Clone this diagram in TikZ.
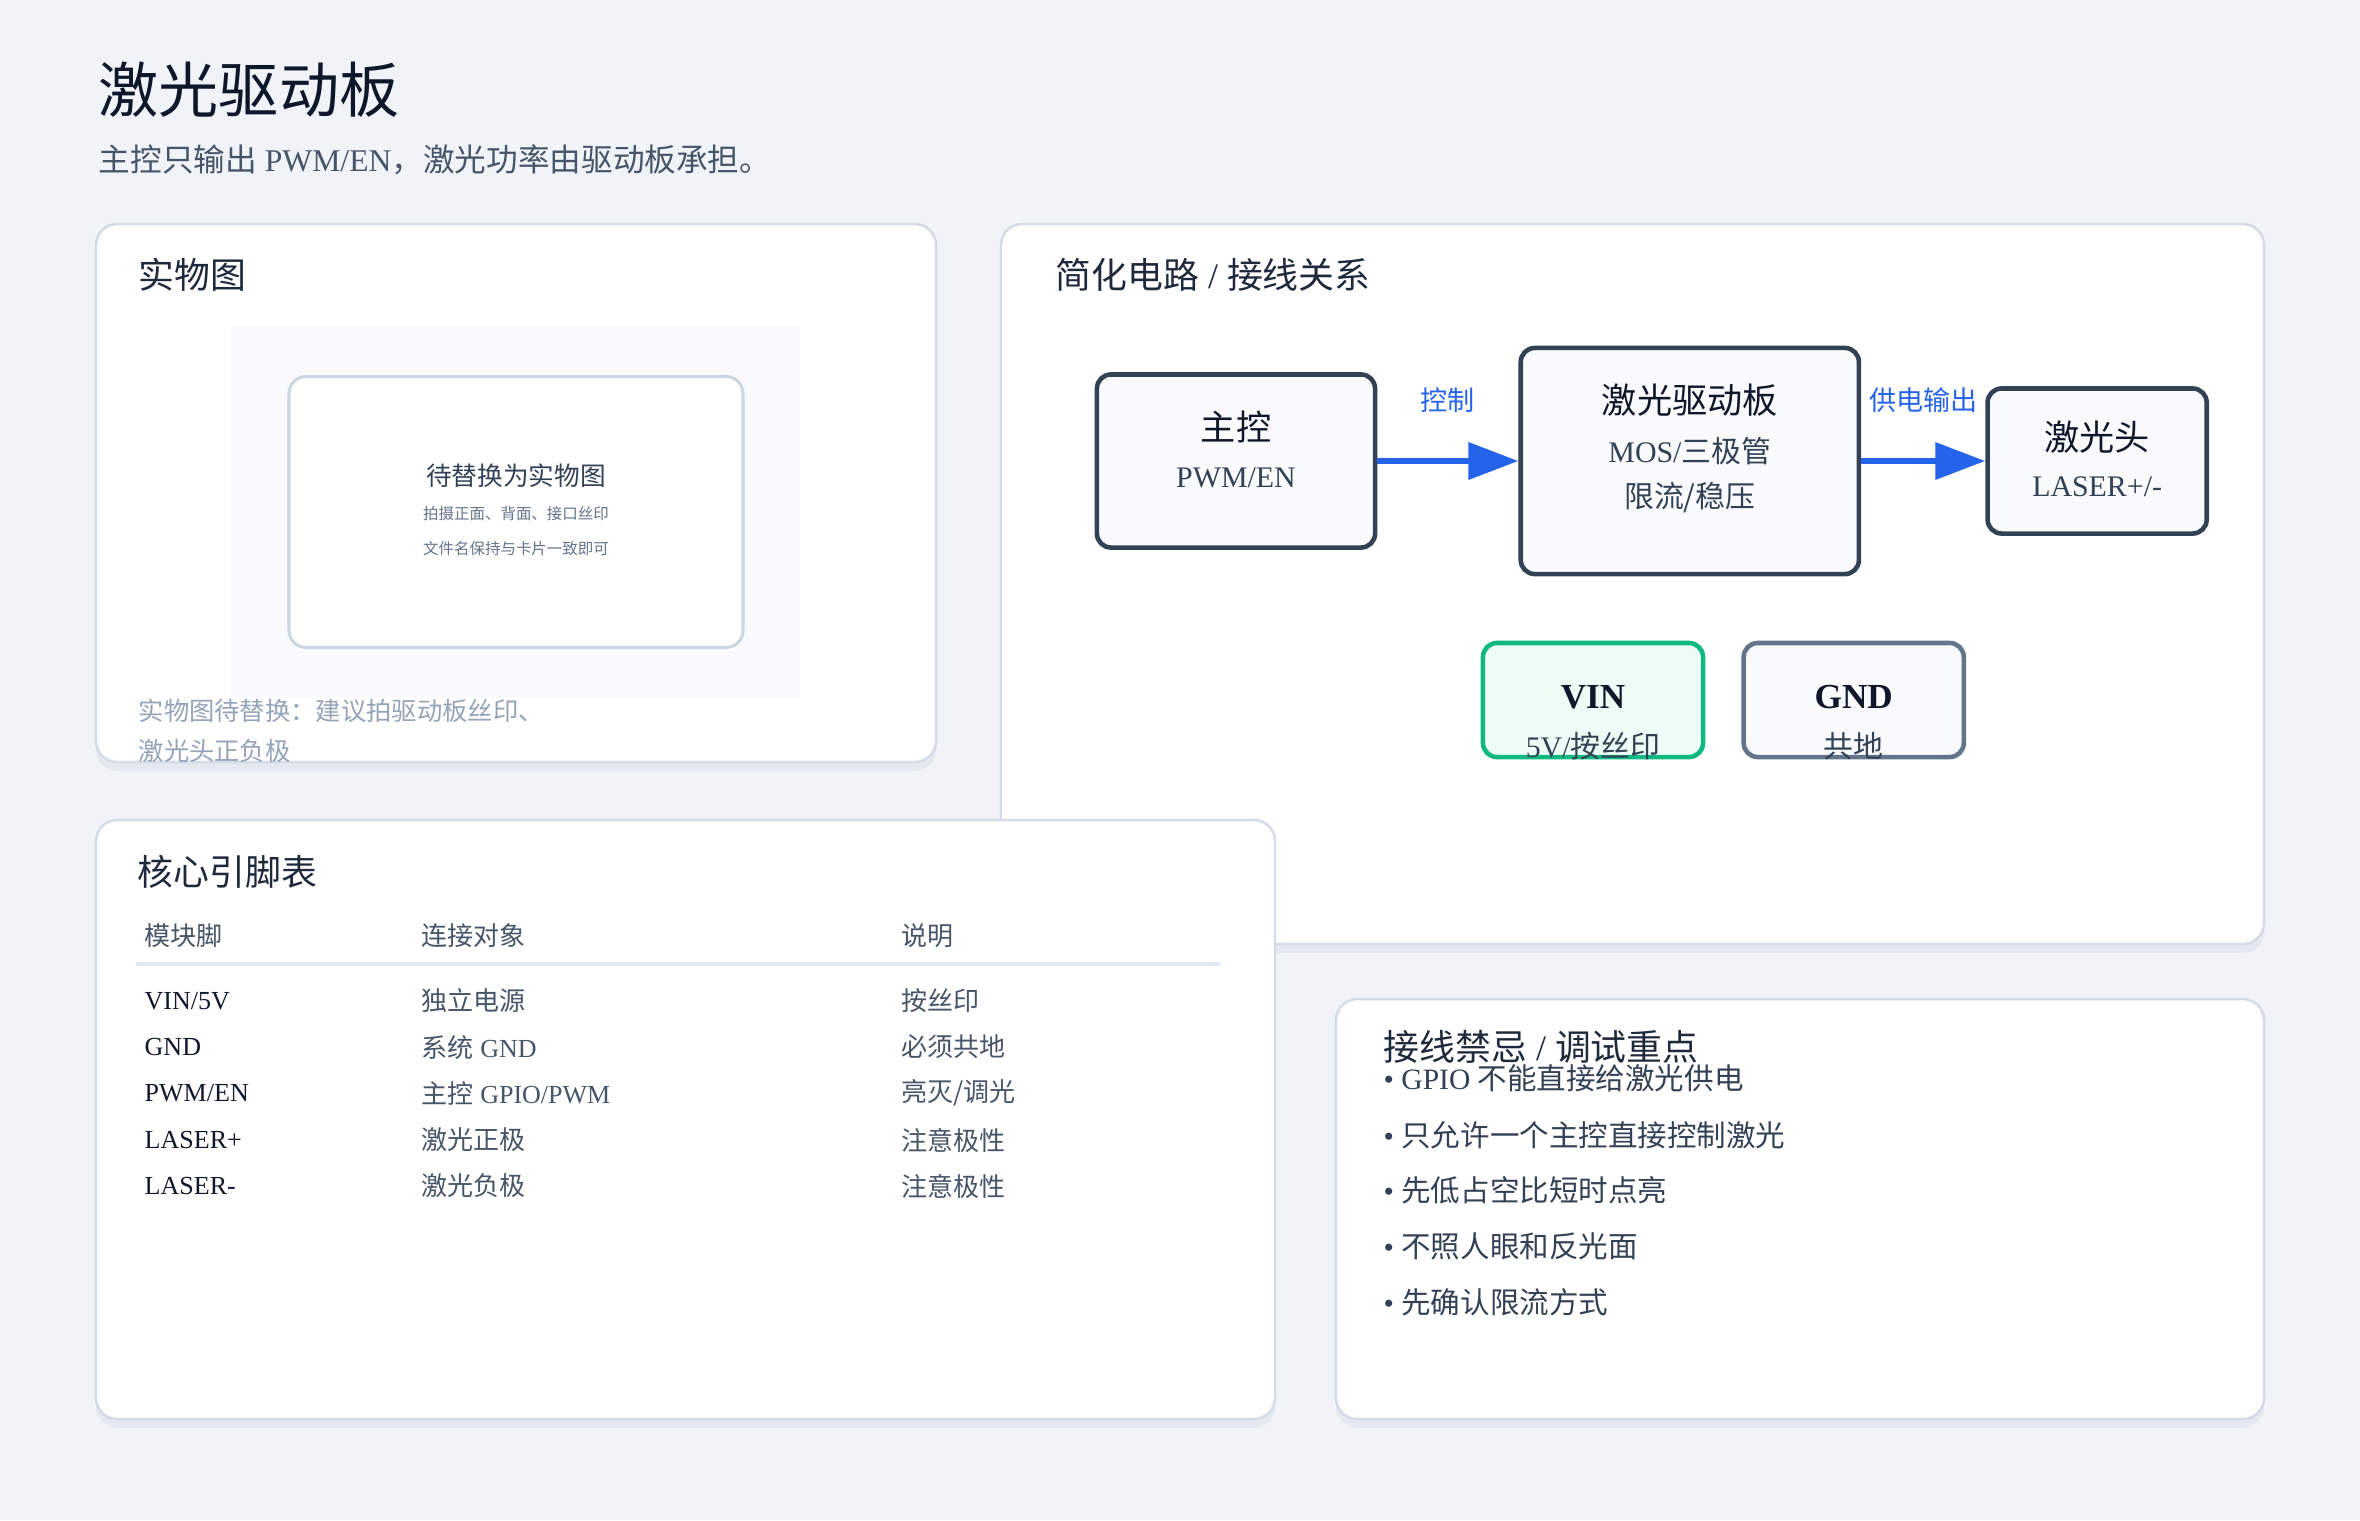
\documentclass[tikz,border=0pt]{standalone}
\usepackage{fontspec}
\setmainfont{Liberation Serif}
\newfontfamily\cjk{Noto Sans CJK SC}
\newcommand\zh[1]{{\cjk #1}}
\usepackage{xcolor}
\usepackage{tikz}
\usetikzlibrary{arrows.meta,positioning,shadows}
\definecolor{pagebg}{HTML}{F0F3F8}
\definecolor{cardline}{HTML}{D3DCE7}
\definecolor{shadowc}{HTML}{DCE2EB}
\definecolor{inkdark}{HTML}{0F172A}
\definecolor{inkhead}{HTML}{1E293B}
\definecolor{inkmid}{HTML}{334155}
\definecolor{inkgray}{HTML}{475569}
\definecolor{inksoft}{HTML}{64748B}
\definecolor{inklight}{HTML}{94A3B8}
\definecolor{boxfill}{HTML}{F8FAFC}
\definecolor{boxline}{HTML}{334155}
\definecolor{flowblue}{HTML}{2563EB}
\definecolor{vingreen}{HTML}{10B981}
\definecolor{vinfill}{HTML}{ECFDF5}
\definecolor{gndline}{HTML}{64748B}
\definecolor{rulecol}{HTML}{E2E8F0}
\definecolor{phline}{HTML}{CBD5E1}
\tikzset{
  cardbox/.style={
    rounded corners=6pt, draw=cardline, line width=0.7pt, fill=white,
    drop shadow={shadow xshift=0pt, shadow yshift=-2.5pt, fill=shadowc, opacity=0.6}
  },
  txt/.style={inner sep=0pt, anchor=west},
  titletext/.style={txt, font=\fontsize{17.1pt}{20pt}\selectfont, text=inkdark},
  subtext/.style={txt, font=\fontsize{9pt}{11pt}\selectfont, text=inkgray},
  cardhead/.style={txt, font=\fontsize{10.2pt}{12pt}\selectfont, text=inkhead},
  phframe/.style={rectangle, rounded corners=5pt, draw=phline, line width=0.8pt, fill=white},
  phmain/.style={inner sep=0pt, font=\fontsize{7.3pt}{9pt}\selectfont, text=inkmid},
  phsmall/.style={inner sep=0pt, font=\fontsize{4.4pt}{5pt}\selectfont, text=inksoft},
  captiontext/.style={txt, font=\fontsize{7.2pt}{9pt}\selectfont, text=inklight},
  flowbox/.style={
    rectangle, rounded corners=4pt, draw=boxline, line width=1.3pt, fill=boxfill
  },
  boxmain/.style={inner sep=0pt, font=\fontsize{10pt}{12pt}\selectfont, text=inkdark},
  boxsub/.style={inner sep=0pt, font=\fontsize{8.5pt}{10pt}\selectfont, text=inkmid},
  arrowlabel/.style={inner sep=0pt, font=\fontsize{7.7pt}{9pt}\selectfont, text=flowblue},
  flowarrow/.style={-{Triangle[length=0.5cm, width=0.36cm]}, line width=1.9pt, draw=flowblue},
  tablehead/.style={txt, font=\fontsize{7.4pt}{9pt}\selectfont, text=inkgray},
  pincell/.style={txt, font=\fontsize{7.4pt}{9pt}\selectfont, text=inkdark},
  tablecell/.style={txt, font=\fontsize{7.4pt}{9pt}\selectfont, text=inkgray},
  bullettext/.style={txt, font=\fontsize{8.4pt}{10pt}\selectfont, text=inkmid}
}

\begin{document}
\begin{tikzpicture}[x=0.01cm, y=-0.01cm]
\useasboundingbox (0,0) rectangle (2360,1520);
\fill[pagebg] (0,0) rectangle (2360,1520);

\node[titletext] (title) at (98,90) {\zh{激光驱动板}};
\node[subtext] (subtitle) at (98,160) {\zh{主控只输出} PWM/EN\zh{，激光功率由驱动板承担。}};

\draw[cardbox] (96,224) rectangle (936,762);
\node[cardhead] (photohead) at (138,275) {\zh{实物图}};
\fill[boxfill] (231,327) rectangle (800,697);
\node[phframe, minimum width=4.54cm, minimum height=2.71cm] (phbox) at (516,512) {};
\node[phmain] (phtitle) at (516,476) {\zh{待替换为实物图}};
\node[phsmall] (phline1) at (516,514) {\zh{拍摄正面、背面、接口丝印}};
\node[phsmall] (phline2) at (516,549) {\zh{文件名保持与卡片一致即可}};
\node[captiontext] (caption1) at (138,711) {\zh{实物图待替换：建议拍驱动板丝印、}};
\node[captiontext] (caption2) at (138,751) {\zh{激光头正负极}};

\draw[cardbox] (1001,224) rectangle (2264,944);
\node[cardhead] (circuithead) at (1055,275) {\zh{简化电路} / \zh{接线关系}};
\node[flowbox, minimum width=2.78cm, minimum height=1.73cm] (mcu) at (1236,461) {};
\node[flowbox, minimum width=3.38cm, minimum height=2.26cm, right=1.41cm of mcu] (drv) {};
\node[flowbox, minimum width=2.19cm, minimum height=1.45cm, right=1.24cm of drv] (head) {};
\node[boxmain] (mcuname) at ([yshift=0.34cm]mcu.center) {\zh{主控}};
\node[boxsub] (mcusig) at ([yshift=-0.17cm]mcu.center) {PWM/EN};
\node[boxmain] (drvname) at ([yshift=0.61cm]drv.center) {\zh{激光驱动板}};
\node[boxsub] (drvpart) at ([yshift=0.10cm]drv.center) {MOS/\zh{三极管}};
\node[boxsub] (drvmode) at ([yshift=-0.37cm]drv.center) {\zh{限流/稳压}};
\node[boxmain] (headname) at ([yshift=0.24cm]head.center) {\zh{激光头}};
\node[boxsub] (headpins) at ([yshift=-0.26cm]head.center) {LASER+/-};

\draw[flowarrow] (mcu.east) -- node[arrowlabel, above=0.45cm] (ctrllbl) {\zh{控制}} (drv.west |- mcu.east);
\draw[flowarrow] (drv.east) -- node[arrowlabel, above=0.45cm] (powerlbl) {\zh{供电输出}} (head.west |- drv.east);

\node[flowbox, draw=vingreen, fill=vinfill, minimum width=2.2cm, minimum height=1.14cm] (vin) at (1593,700) {};
\node[flowbox, draw=gndline, minimum width=2.2cm, minimum height=1.14cm, right=0.36cm of vin] (gnd) {};
\node[boxmain] (vinname) at ([yshift=0.03cm]vin.center) {\textbf{VIN}};
\node[boxsub] (vinnote) at ([yshift=-0.46cm]vin.center) {5V/\zh{按丝印}};
\node[boxmain] (gndname) at ([yshift=0.03cm]gnd.center) {\textbf{GND}};
\node[boxsub] (gndnote) at ([yshift=-0.46cm]gnd.center) {\zh{共地}};

\draw[cardbox] (96,820) rectangle (1275,1419);
\node[cardhead] (pinhead) at (137,872) {\zh{核心引脚表}};
\node[tablehead] (hpin) at (144,936) {\zh{模块脚}};
\node[tablehead] (hobj) at (421,936) {\zh{连接对象}};
\node[tablehead] (hnote) at (901,936) {\zh{说明}};
\draw[rulecol, line width=1.2pt] (136,964) -- (1220,964);
\node[pincell] (pin1) at (144,1001) {VIN/5V};
\node[tablecell] (obj1) at (421,1001) {\zh{独立电源}};
\node[tablecell] (note1) at (901,1001) {\zh{按丝印}};
\node[pincell] (pin2) at (144,1047) {GND};
\node[tablecell] (obj2) at (421,1047) {\zh{系统} GND};
\node[tablecell] (note2) at (901,1047) {\zh{必须共地}};
\node[pincell] (pin3) at (144,1093) {PWM/EN};
\node[tablecell] (obj3) at (421,1093) {\zh{主控} GPIO/PWM};
\node[tablecell] (note3) at (901,1093) {\zh{亮灭/调光}};
\node[pincell] (pin4) at (144,1140) {LASER+};
\node[tablecell] (obj4) at (421,1140) {\zh{激光正极}};
\node[tablecell] (note4) at (901,1140) {\zh{注意极性}};
\node[pincell] (pin5) at (144,1186) {LASER-};
\node[tablecell] (obj5) at (421,1186) {\zh{激光负极}};
\node[tablecell] (note5) at (901,1186) {\zh{注意极性}};

\draw[cardbox] (1336,999) rectangle (2264,1419);
\node[cardhead] (debughead) at (1383,1047) {\zh{接线禁忌} / \zh{调试重点}};
\node[bullettext] (tip1) at (1383,1078) {• GPIO \zh{不能直接给激光供电}};
\node[bullettext] (tip2) at (1383,1135) {• \zh{只允许一个主控直接控制激光}};
\node[bullettext] (tip3) at (1383,1190) {• \zh{先低占空比短时点亮}};
\node[bullettext] (tip4) at (1383,1246) {• \zh{不照人眼和反光面}};
\node[bullettext] (tip5) at (1383,1302) {• \zh{先确认限流方式}};
\end{tikzpicture}
\end{document}
